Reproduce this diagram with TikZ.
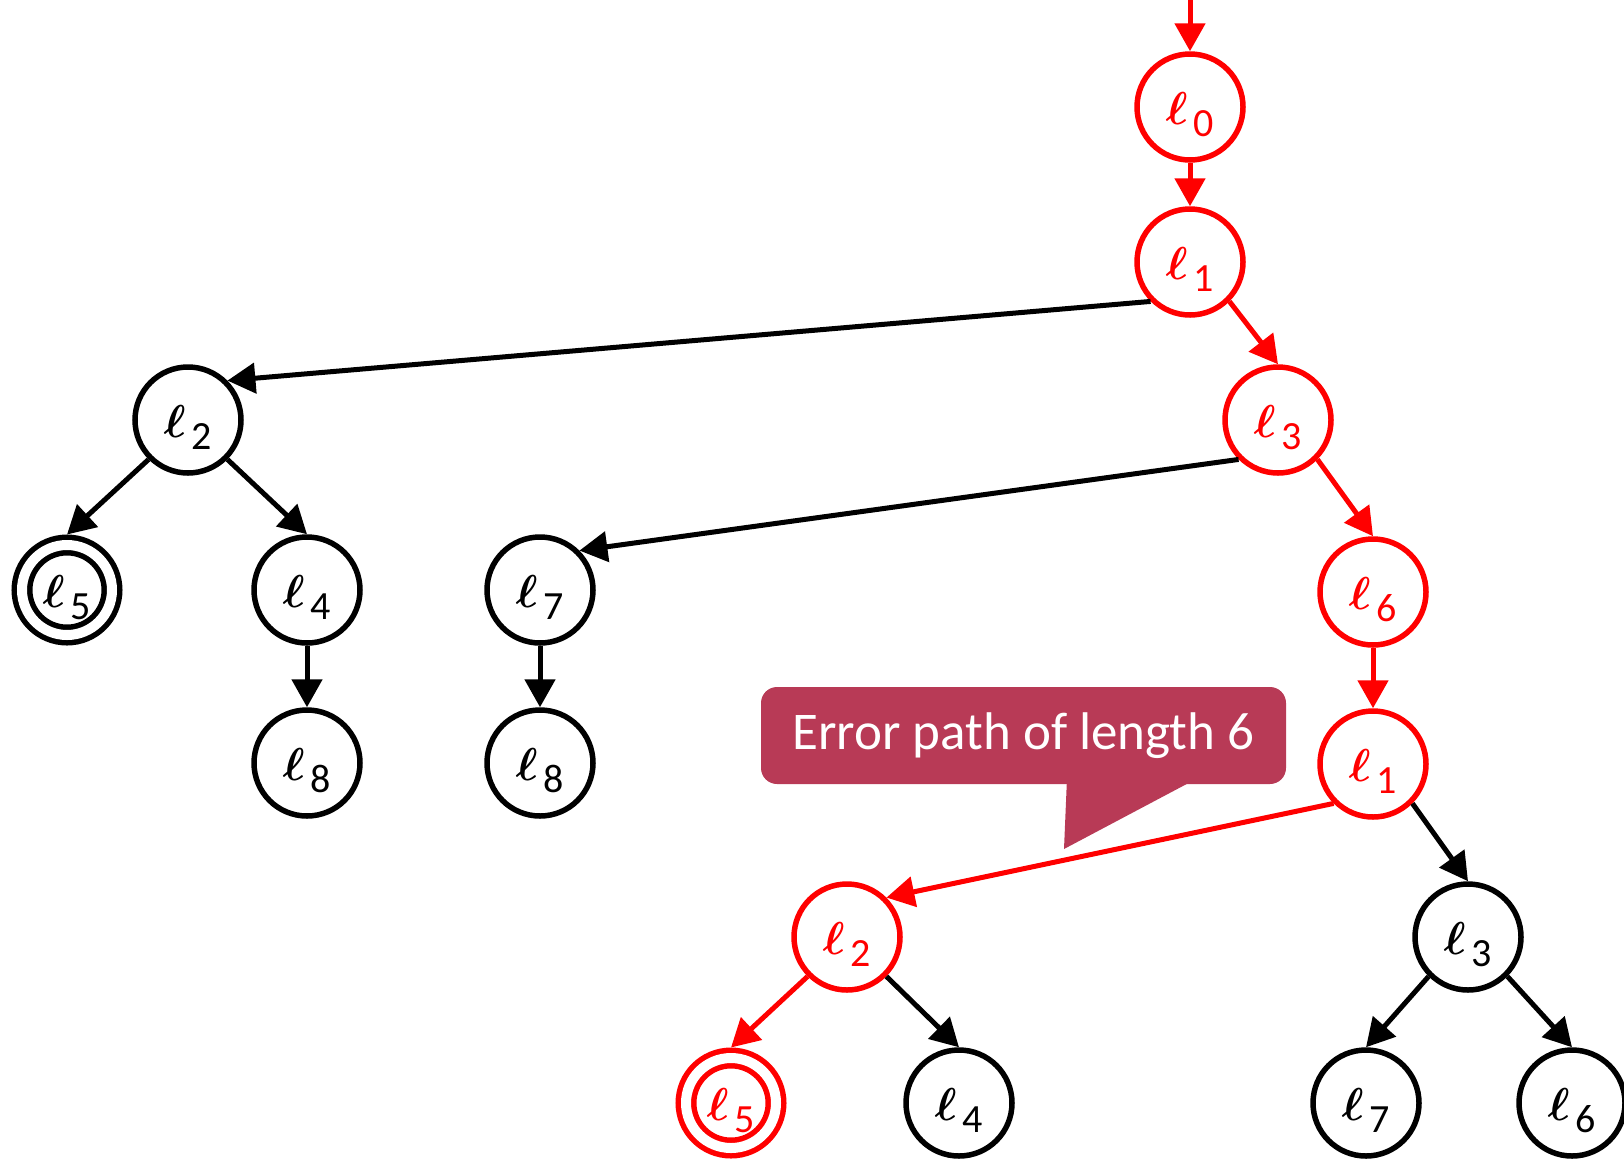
\documentclass[tikz,border=0pt]{standalone}
\usepackage{fontspec}
\setmainfont{Carlito}
\usepackage{graphicx}
\usepackage{tikz}
\usetikzlibrary{arrows.meta,positioning}

\definecolor{errred}{RGB}{255,0,0}
\definecolor{notecol}{RGB}{184,58,86}

% location label: ell with lowered index
\newcommand{\lname}[1]{\resizebox{!}{32pt}{\boldmath$\ell$}\kern0.15em\raisebox{-0.3em}{\fontsize{40}{44}\selectfont#1}}

\begin{document}
\begin{tikzpicture}[x=1pt,y=-1pt,
	loc/.style={circle,draw=black,line width=5.5pt,minimum size=106pt,inner sep=0pt,outer sep=2.75pt,
		text height=38pt,text depth=4pt,font=\fontsize{40}{48}\selectfont},
	final/.style={loc,double,double distance=10pt,minimum size=90pt,outer sep=10.5pt},
	onpath/.style={draw=errred,text=errred},
	edge/.style={line width=5pt,-{Triangle[length=28pt,width=30pt]}},
	redge/.style={edge,errred}]
	\useasboundingbox (0,0) rectangle (1624,1160);

	% tree of states
	\node[loc,onpath] (l0) at (1190,107) {\lname{0}};
	\node[loc,onpath] (l1) at (1190,262) {\lname{1}};
	\node[loc] (l2) at (188,420) {\lname{2}};
	\node[loc,onpath] (l3) at (1278,420) {\lname{3}};
	\node[final] (l5) at (67,590) {\lname{5}};
	\node[loc] (l4) at (307,590) {\lname{4}};
	\node[loc] (l7) at (540,590) {\lname{7}};
	\node[loc,onpath] (l6) at (1373,592) {\lname{6}};
	\node[loc] (l8) at (307,763) {\lname{8}};
	\node[loc] (l8b) at (540,763) {\lname{8}};
	\node[loc,onpath] (l1b) at (1373,764) {\lname{1}};
	\node[loc,onpath] (l2b) at (847,937) {\lname{2}};
	\node[loc] (l3b) at (1468,937) {\lname{3}};
	\node[final,onpath] (l5b) at (731,1103) {\lname{5}};
	\node[loc] (l4b) at (959,1103) {\lname{4}};
	\node[loc] (l7b) at (1366,1103) {\lname{7}};
	\node[loc] (l6b) at (1572,1103) {\lname{6}};
	\coordinate (init) at (1190,0);

	% error path
	\draw[redge] (init) -- (l0.north);
	\draw[redge] (l0.south) -- (l1.north);
	\draw[redge] (l1.south east) -- (l3.north);
	\draw[redge] (l3.south east) -- (l6.north);
	\draw[redge] (l6.south) -- (l1b.north);
	\draw[redge] (l1b.south west) -- (l2b.north east);
	\draw[redge] (l2b.south west) -- (l5b.north);

	% other branches
	\draw[edge] (l1.south west) -- (l2.north east);
	\draw[edge] (l2.south west) -- (l5.north);
	\draw[edge] (l2.south east) -- (l4.north);
	\draw[edge] (l4.south) -- (l8.north);
	\draw[edge] (l3.south west) -- (l7.north east);
	\draw[edge] (l7.south) -- (l8b.north);
	\draw[edge] (l1b.south east) -- (l3b.north);
	\draw[edge] (l2b.south east) -- (l4b.north);
	\draw[edge] (l3b.south west) -- (l7b.north);
	\draw[edge] (l3b.south east) -- (l6b.north);

	% callout
	\fill[notecol] (1067,778) -- (1064,849) -- (1198,778) -- cycle;
	\node[fill=notecol,rounded corners=16pt,minimum width=525pt,minimum height=97pt,inner sep=0pt,
		text=white,font=\fontsize{53}{60}\selectfont] (note) at (1023.5,735.5) {Error path of length 6};
\end{tikzpicture}
\end{document}
